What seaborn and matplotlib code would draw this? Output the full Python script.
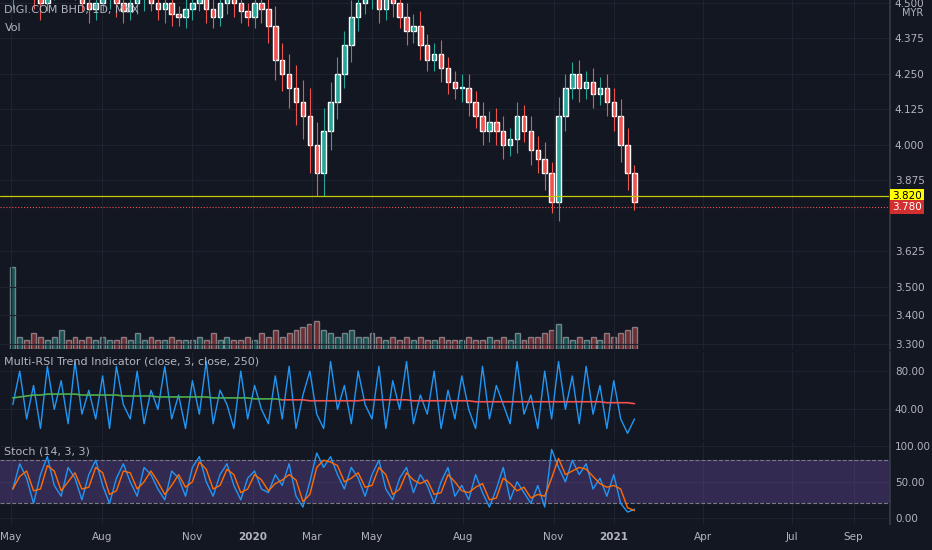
import matplotlib
matplotlib.use("Agg")
import matplotlib.pyplot as plt
import seaborn as sns
import pandas as pd
import numpy as np

dates = pd.date_range("2019-05-03", periods=91, freq="W-FRI")
closes = [4.55,4.6,4.58,4.52,4.5,4.55,4.6,4.62,4.58,4.55,4.5,4.48,4.5,
          4.52,4.55,4.5,4.47,4.5,4.52,4.55,4.5,4.48,4.5,4.46,4.45,4.48,
          4.5,4.52,4.48,4.45,4.5,4.55,4.5,4.47,4.45,4.5,4.48,4.42,4.3,
          4.25,4.2,4.15,4.1,4.0,3.9,4.05,4.15,4.25,4.35,4.45,4.5,4.52,
          4.52,4.48,4.55,4.5,4.45,4.4,4.42,4.35,4.3,4.32,4.27,4.22,4.2,
          4.2,4.15,4.1,4.05,4.08,4.05,4.0,4.02,4.1,4.05,3.98,3.95,3.9,
          3.8,4.1,4.2,4.25,4.2,4.22,4.18,4.2,4.15,4.1,4.0,3.9,3.8]
opens = [4.52] + closes[:-1]
wick = [0.04,0.03,0.05,0.04,0.06,0.03,0.04,0.03,0.05,0.04,0.03,0.05,0.04,
        0.03,0.04,0.05,0.04,0.03,0.04,0.05,0.03,0.04,0.05,0.04,0.03,0.04,
        0.04,0.03,0.05,0.04,0.03,0.04,0.05,0.04,0.03,0.04,0.05,0.06,0.07,
        0.06,0.07,0.08,0.08,0.1,0.08,0.08,0.07,0.06,0.05,0.06,0.05,0.04,
        0.04,0.05,0.04,0.05,0.04,0.05,0.04,0.05,0.04,0.04,0.05,0.04,0.04,
        0.05,0.05,0.04,0.05,0.04,0.05,0.05,0.04,0.05,0.04,0.05,0.05,0.06,
        0.04,0.07,0.05,0.04,0.05,0.04,0.05,0.04,0.05,0.05,0.06,0.06,0.03]
volume = [26,4,3,5,4,3,4,6,3,4,3,4,3,
          4,3,3,4,3,5,3,4,3,3,4,3,3,
          3,4,3,5,3,4,3,3,4,3,5,4,6,
          4,5,6,7,8,9,6,5,4,5,6,4,4,
          5,4,3,4,3,4,3,4,3,3,4,3,3,
          3,4,3,3,4,3,4,3,5,3,4,4,5,
          6,8,4,3,4,3,4,3,5,4,5,6,7]
rsi_fast = [45,80,30,65,20,85,40,70,25,90,35,60,30,
            75,20,85,45,30,80,25,60,40,85,30,55,20,
            70,35,90,25,60,45,20,80,30,65,40,25,75,
            30,85,20,55,80,35,20,90,40,65,25,80,45,
            30,85,20,70,40,90,25,55,35,80,20,60,30,
            75,40,20,85,30,65,45,25,90,35,55,20,80,
            30,90,40,75,25,85,35,65,20,70,30,15,30]
rsi_slow = [52,53,54,55,55,56,56,56,56,56,55,55,55,
            55,55,55,54,54,54,54,54,53,53,53,53,53,
            53,53,53,52,52,52,52,52,52,51,51,51,51,
            50,50,50,50,49,49,49,49,49,49,49,49,50,
            50,50,50,50,50,50,49,49,49,49,49,49,49,
            49,49,48,48,48,48,48,48,48,48,48,48,48,
            48,48,48,48,48,48,48,48,47,47,47,47,46]
stoch_k = [40,75,55,20,60,85,45,30,70,55,25,60,80,
           45,20,55,75,50,30,70,60,40,25,65,55,30,
           70,85,50,30,60,75,45,25,55,65,40,35,60,
           45,75,30,15,50,90,70,85,60,40,70,55,30,
           60,80,40,25,55,70,35,60,45,20,50,70,30,
           45,25,60,35,15,40,70,25,50,35,20,45,15,
           95,70,50,80,60,75,40,55,30,60,20,8,12]
rsi_ticks = [40, 80]
stoch_ticks = [0, 50, 100]
price_ticks = [3.3, 3.4, 3.5, 3.625, 3.875, 4.0, 4.125, 4.25, 4.375, 4.5]

BG = "#131722"; GRID = "#1f2330"; TXT = "#b2b5be"
UP = "#26a69a"; DN = "#ef5350"
sns.set_theme(style="dark")
plt.rcParams['font.family'] = ['DejaVu Sans']

fig = plt.figure(figsize=(9.32, 5.5), dpi=100, facecolor=BG)
bgax = fig.add_axes([0, 0.365, 0.955, 0.635], zorder=-1); bgax.set_facecolor(BG)
bgax.set_xticks([]); bgax.set_yticks([])
for s in bgax.spines.values(): s.set_visible(False)
axm = fig.add_axes([0, 0.365, 0.955, 0.635])
axr = fig.add_axes([0, 0.2, 0.955, 0.16], sharex=axm)
axs = fig.add_axes([0, 0.048, 0.955, 0.148], sharex=axm)

df = pd.DataFrame({"date": dates, "open": opens, "close": closes, "wick": wick, "vol": volume,
                   "rsi": rsi_fast, "slow": rsi_slow, "k": stoch_k})
df["d"] = df["k"].rolling(2, min_periods=1).mean()
df["up"] = df["close"] >= df["open"]

axv = axm.twinx()
axv.set_ylim(0, 110); axv.axis("off")
axv.bar(df["date"], df["vol"], width=5, color=np.where(df["up"], UP, DN), alpha=0.4)
axv.set_zorder(0); axm.set_zorder(1); axm.patch.set_visible(False)

for ax in (axm, axr, axs):
    ax.grid(True, color=GRID, lw=0.8)
    ax.yaxis.tick_right()
    ax.tick_params(colors=TXT, labelsize=7.5, length=0, labelright=True, labelleft=False)
    for s in ax.spines.values():
        s.set_visible(False)
    ax.spines["right"].set_visible(True); ax.spines["right"].set_color("#363a45")
axr.set_facecolor(BG); axs.set_facecolor(BG)

w = 4.5
for _, r in df.iterrows():
    c = UP if r.up else DN
    lo, hi = min(r.open, r.close), max(r.open, r.close)
    axm.vlines(r.date, lo - r.wick, hi + r.wick, color=c, lw=0.8)
    axm.bar(r.date, max(hi - lo, 0.004), bottom=lo, width=w, color=c)
axm.set_ylim(3.28, 4.51)
axm.set_yticks(price_ticks)
axm.set_yticklabels([f"{t:.3f}" for t in price_ticks])
axm.axhline(3.82, color="#c5c90a", lw=0.9)
axm.axhline(3.78, color=DN, lw=0.8, ls=":")
axm.text(1.002, 3.82, "3.820", transform=axm.get_yaxis_transform(), fontsize=7.5, color="black",
         va="center", bbox=dict(fc="#ffff00", ec="none", pad=1.5))
axm.text(1.002, 3.78, "3.780", transform=axm.get_yaxis_transform(), fontsize=7.5, color="white",
         va="center", bbox=dict(fc="#d32f2f", ec="none", pad=1.5))
axm.text(0.005, 0.985, "DIGI.COM BHD, 1D, MYX", transform=axm.transAxes, color=TXT, fontsize=8, va="top")
axm.text(0.005, 0.935, "Vol", transform=axm.transAxes, color=TXT, fontsize=8, va="top")
axm.text(1.025, 0.955, "MYR", transform=axm.transAxes, color=TXT, fontsize=7, ha="center")

sns.lineplot(data=df, x="date", y="rsi", ax=axr, color="#2196f3", lw=1)
sns.lineplot(data=df.iloc[:40], x="date", y="slow", ax=axr, color="#4caf50", lw=1.2)
sns.lineplot(data=df.iloc[39:], x="date", y="slow", ax=axr, color="#ef5350", lw=1.2)
axr.set_ylim(8, 100); axr.set_yticks(rsi_ticks)
axr.set_yticklabels([f"{t:.2f}" for t in rsi_ticks])
axr.text(0.005, 0.95, "Multi-RSI Trend Indicator (close, 3, close, 250)", transform=axr.transAxes,
         color=TXT, fontsize=8, va="top")

axs.axhspan(20, 80, color="#7e57c2", alpha=0.3, lw=0)
axs.axhline(80, color="#787b86", ls="--", lw=0.8)
axs.axhline(20, color="#787b86", ls="--", lw=0.8)
sns.lineplot(data=df, x="date", y="k", ax=axs, color="#2196f3", lw=1)
sns.lineplot(data=df, x="date", y="d", ax=axs, color="#ff6d00", lw=1)
axs.set_ylim(-8, 105); axs.set_yticks(stoch_ticks)
axs.set_yticklabels([f"{t:.2f}" for t in stoch_ticks])
axs.text(0.005, 0.95, "Stoch (14, 3, 3)", transform=axs.transAxes, color=TXT, fontsize=8, va="top")

for ax in (axm, axr, axs):
    ax.set_xlabel(""); ax.set_ylabel("")
axm.tick_params(labelbottom=False); axr.tick_params(labelbottom=False)
axs.set_xlim(pd.Timestamp("2019-04-20"), pd.Timestamp("2021-10-08"))
ticks = pd.to_datetime(["2019-05-01","2019-08-01","2019-11-01","2020-01-01","2020-03-01","2020-05-01",
                        "2020-08-01","2020-11-01","2021-01-01","2021-04-01","2021-07-01","2021-09-01"])
axs.set_xticks(ticks)
axs.set_xticklabels(["May","Aug","Nov","2020","Mar","May","Aug","Nov","2021","Apr","Jul","Sep"])
axs.tick_params(axis="x", pad=6)
for lab in axs.get_xticklabels():
    if lab.get_text() in ("2020", "2021"):
        lab.set_fontweight("bold")
fig.savefig("out.png", dpi=100, facecolor=BG)
